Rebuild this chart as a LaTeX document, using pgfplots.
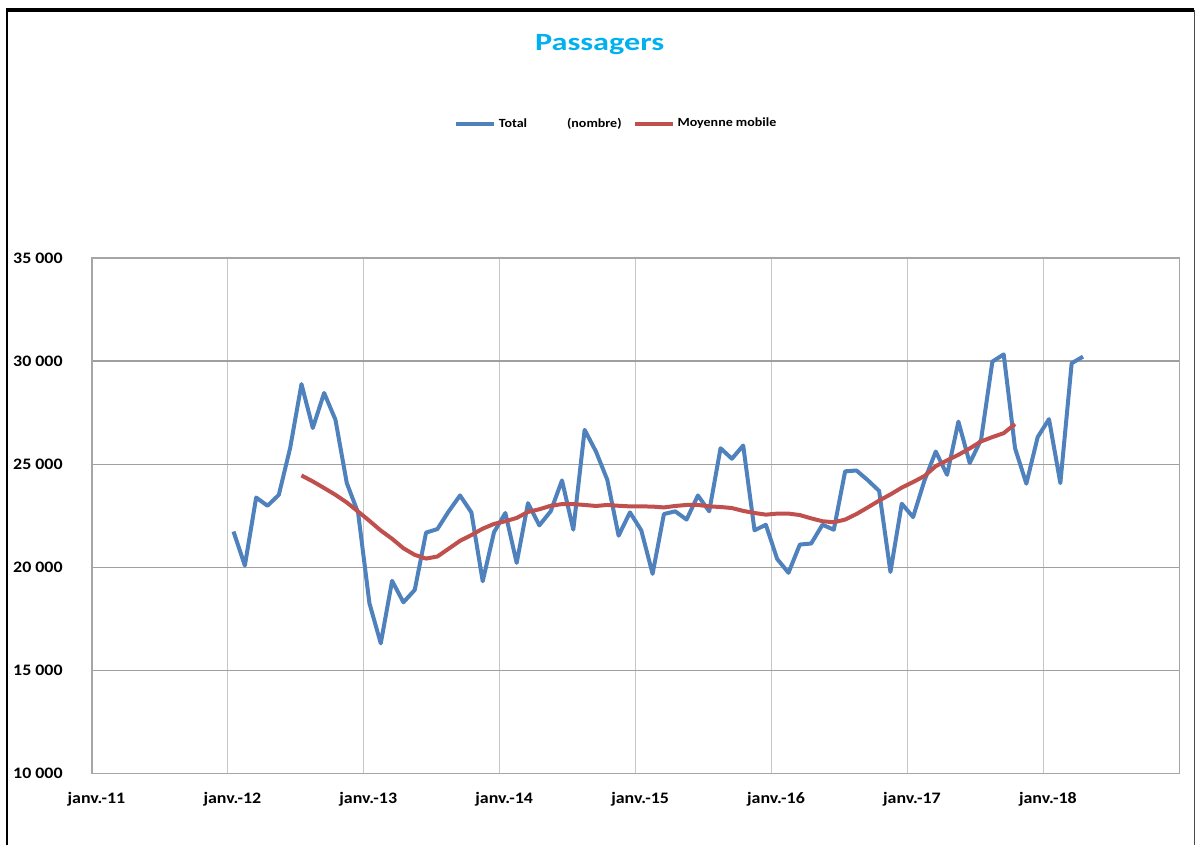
\documentclass[border=0pt]{standalone}
\usepackage{fontspec}
\setmainfont{Carlito}[FakeStretch=1.12]
\newfontfamily\titlefont{Carlito}[FakeStretch=1.3]
\usepackage{pgfplots}
\pgfplotsset{compat=1.18}
\usepackage{pgfplotstable}

\definecolor{totblue}{RGB}{79,129,189}
\definecolor{mmred}{RGB}{192,80,77}
\definecolor{titlecyan}{RGB}{0,176,240}

% x = months since janv. 2011 (points sit mid-month)
\pgfplotstableread{
x      y
12.5   21730
13.5   20080
14.5   23380
15.5   22980
16.5   23510
17.5   25780
18.5   28880
19.5   26750
20.5   28450
21.5   27150
22.5   24080
23.5   22640
24.5   18250
25.5   16310
26.5   19340
27.5   18300
28.5   18900
29.5   21680
30.5   21850
31.5   22710
32.5   23480
33.5   22660
34.5   19320
35.5   21700
36.5   22630
37.5   20210
38.5   23110
39.5   22030
40.5   22710
41.5   24210
42.5   21820
43.5   26660
44.5   25610
45.5   24240
46.5   21530
47.5   22660
48.5   21790
49.5   19680
50.5   22580
51.5   22710
52.5   22310
53.5   23480
54.5   22710
55.5   25770
56.5   25260
57.5   25900
58.5   21790
59.5   22060
60.5   20400
61.5   19730
62.5   21100
63.5   21150
64.5   22060
65.5   21820
66.5   24650
67.5   24690
68.5   24220
69.5   23700
70.5   19770
71.5   23080
72.5   22430
73.5   24200
74.5   25610
75.5   24480
76.5   27060
77.5   25050
78.5   26180
79.5   29970
80.5   30320
81.5   25770
82.5   24050
83.5   26310
84.5   27180
85.5   24080
86.5   29890
87.5   30210
}\total

\pgfplotstableread{
x      y
18.5   24450
19.5   24160
20.5   23840
21.5   23510
22.5   23140
23.5   22700
24.5   22250
25.5   21780
26.5   21380
27.5   20920
28.5   20600
29.5   20420
30.5   20520
31.5   20900
32.5   21280
33.5   21560
34.5   21870
35.5   22100
36.5   22230
37.5   22390
38.5   22680
39.5   22810
40.5   22980
41.5   23060
42.5   23060
43.5   23020
44.5   22970
45.5   23020
46.5   22980
47.5   22950
48.5   22950
49.5   22940
50.5   22900
51.5   22970
52.5   23020
53.5   23020
54.5   22950
55.5   22920
56.5   22870
57.5   22730
58.5   22630
59.5   22550
60.5   22600
61.5   22600
62.5   22530
63.5   22370
64.5   22230
65.5   22180
66.5   22310
67.5   22580
68.5   22900
69.5   23230
70.5   23530
71.5   23860
72.5   24130
73.5   24420
74.5   24900
75.5   25180
76.5   25450
77.5   25760
78.5   26100
79.5   26310
80.5   26500
81.5   26940
}\moyenne

\begin{document}
\begin{tikzpicture}
\begin{axis}[
    scale only axis,
    width=544pt, height=258pt,
    xmin=0, xmax=96,
    ymin=10000, ymax=35000,
    scaled y ticks=false,
    xtick={0,12,...,84},
    xticklabels={janv.-11,janv.-12,janv.-13,janv.-14,janv.-15,janv.-16,janv.-17,janv.-18},
    ytick={10000,15000,...,35000},
    yticklabels={10 000,15 000,20 000,25 000,30 000,35 000},
    tick style={draw=none},
    xmajorgrids, ymajorgrids,
    x grid style={gray!45, line width=0.6pt},
    y grid style={gray!75, line width=0.6pt},
    axis line style={gray!70, line width=0.7pt},
    xticklabel style={font=\fontsize{8}{9}\selectfont\bfseries, anchor=north, inner sep=0pt, yshift=-9pt, xshift=2.25pt},
    yticklabel style={font=\fontsize{8}{9}\selectfont\bfseries, anchor=west, inner sep=0pt, xshift=-39.6pt},
    title={\titlefont\bfseries Passagers},
    title style={at={(0.4669,1.3895)}, anchor=center, font=\fontsize{12.4}{14}\selectfont, text=titlecyan},
    legend columns=-1,
    legend style={at={(0.4825,1.2597)}, anchor=center, draw=none, fill=none,
        font=\fontsize{6.25}{7}\selectfont\bfseries,
        /tikz/every even column/.append style={column sep=4pt},
        nodes={inner sep=1.5pt}},
    legend image code/.code={\draw[#1] (0pt,0pt) -- (19pt,0pt);},
    clip=false,
]
\addplot[totblue, line width=2pt, line join=round] table[x=x, y=y] {\total};
\addlegendentry{Total\hspace{20pt}(nombre)}
\addplot[mmred, line width=2pt, line join=round] table[x=x, y=y] {\moyenne};
\addlegendentry{Moyenne mobile}
\end{axis}
\draw[line width=0.85pt] (-42.65pt,-36pt) -- (-42.65pt,382pt);
\draw[line width=1.75pt] (-43.1pt,382pt) -- (551.5pt,382pt);
\draw[gray!60!black, line width=0.6pt] (551.5pt,382pt) -- (551.5pt,-36pt);
\useasboundingbox (-46pt,-36pt) rectangle (552pt,387pt);
\end{tikzpicture}
\end{document}
